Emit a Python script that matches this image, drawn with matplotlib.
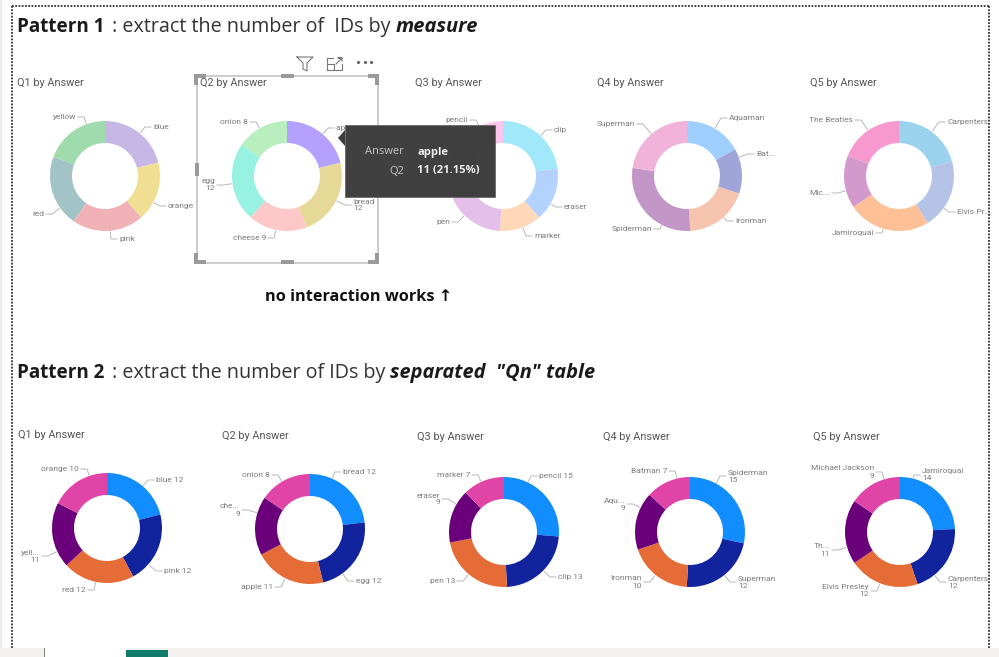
import math
import matplotlib
matplotlib.use("Agg")
import matplotlib.pyplot as plt
from matplotlib.patches import Rectangle, Polygon

plt.rcParams['font.family'] = ['Open Sans', 'DejaVu Sans']

W, H = 999, 657

# Pattern 1 data (alphabetical order, slices in pastel colours)
p1_q1_labels = ["blue", "orange", "pink", "red", "yellow"]
p1_q1_values = [12, 10, 12, 12, 11]
p1_q2_labels = ["apple 11", "bread\n12", "cheese 9", "egg\n12", "onion 8"]
p1_q2_values = [11, 12, 9, 12, 8]
p1_q3_labels = ["clip", "eraser", "marker", "pen", "pencil"]
p1_q3_values = [13, 9, 7, 13, 15]
p1_q4_labels = ["Aquaman", "Bat...", "Ironman", "Spiderman", "Superman"]
p1_q4_values = [9, 7, 10, 15, 12]
p1_q5_labels = ["Carpenters", "Elvis Pr...", "Jamiroquai", "Mic...", "The Beatles"]
p1_q5_values = [12, 12, 14, 9, 11]

# Pattern 2 data (sorted by count)
p2_q1_labels = ["blue 12", "pink 12", "red 12", "yell...\n11", "orange 10"]
p2_q1_values = [12, 12, 12, 11, 10]
p2_q2_labels = ["bread 12", "egg 12", "apple 11", "che...\n9", "onion 8"]
p2_q2_values = [12, 12, 11, 9, 8]
p2_q3_labels = ["pencil 15", "clip 13", "pen 13", "eraser\n9", "marker 7"]
p2_q3_values = [15, 13, 13, 9, 7]
p2_q4_labels = ["Spiderman\n15", "Superman\n12", "Ironman\n10", "Aqu...\n9", "Batman 7"]
p2_q4_values = [15, 12, 10, 9, 7]
p2_q5_labels = ["Jamiroquai\n14", "Carpenters\n12", "Elvis Presley\n12", "Th...\n11", "Michael Jackson\n9"]
p2_q5_values = [14, 12, 12, 11, 9]

titles = ["Q1 by Answer", "Q2 by Answer", "Q3 by Answer", "Q4 by Answer", "Q5 by Answer"]

p1_colors = [
    ["#C7B7E5", "#F0DF92", "#F0B2B7", "#A3C4C6", "#9FDBAC"],
    ["#B4A0FF", "#E6D998", "#FFC8C8", "#98F2E2", "#B9EEBF"],
    ["#A0E8FA", "#B4D2FF", "#FFD8B8", "#E3BFEA", "#FBC5EC"],
    ["#9FCFFF", "#9FA5D8", "#F5C3AE", "#C396C8", "#F2B3DB"],
    ["#9BD3EE", "#B5C3E6", "#FFC097", "#D398CC", "#F799CE"],
]
p2_colors = ["#118DFF", "#12239E", "#E66C37", "#6B007B", "#E044A7"]

# Where each label's inner edge sits in the picture (pixels), same order as the labels
p1_label_pos = [
    [(153, 127), (168, 206), (119, 239), (44, 214), (76, 117)],
    [(336, 128), (353, 205), (266, 238), (215, 185), (248, 122)],
    [(554, 130), (564, 207), (534, 236), (450, 222), (468, 120)],
    [(729, 118), (756, 154), (735, 221), (652, 229), (635, 124)],
    [(947, 122), (957, 212), (874, 233), (830, 193), (853, 120)],
]
p2_label_pos = [
    [(156, 480), (164, 571), (86, 590), (40, 556), (79, 469)],
    [(343, 472), (356, 581), (273, 587), (240, 510), (270, 475)],
    [(539, 476), (558, 577), (455, 581), (440, 499), (470, 475)],
    [(728, 476), (738, 582), (642, 582), (625, 504), (667, 471)],
    [(922, 475), (948, 582), (869, 591), (830, 550), (874, 472)],
]

fig = plt.figure(figsize=(W / 100, H / 100), dpi=100, facecolor="white")

# Overlay in pixel coordinates for text, frames and the tooltip
over = fig.add_axes([0, 0, 1, 1], zorder=5)
over.set_xlim(0, W)
over.set_ylim(H, 0)
over.axis("off")
over.patch.set_alpha(0)


# Helper function to draw one donut with its leader lines and labels
def donut(cx, cy, labels, values, colors, label_pos, r=55):
    ax = fig.add_axes([(cx - r) / W, 1 - (cy + r) / H, 2 * r / W, 2 * r / H], zorder=2)
    ax.pie(values, colors=colors, startangle=90, counterclock=False, radius=1,
           wedgeprops=dict(width=0.4, linewidth=0))
    ax.set_xlim(-1, 1)
    ax.set_ylim(-1, 1)
    for label, (tx, ty) in zip(labels, label_pos):
        side = 1 if tx >= cx else -1
        ex = tx - side * 8
        ey = ty
        dist = math.hypot(ex - cx, ey - cy)
        rx = cx + (r + 1) * (ex - cx) / dist
        ry = cy + (r + 1) * (ey - cy) / dist
        over.plot([rx, ex, tx - side * 2], [ry, ey, ey], color="#b8b8b8", lw=0.7, zorder=2)
        over.text(tx, ty, label, fontsize=6, color="#7c7c7c", va="center",
                  ha="left" if side > 0 else "right",
                  multialignment="left" if side > 0 else "right", linespacing=1.2, zorder=2,
                  family=['Roboto', 'DejaVu Sans'])


# Title rows
over.text(17, 27, "Pattern 1", fontsize=13.6, fontweight="bold", color="#1a1a1a", va="center")
over.text(112, 27, ": extract the number of  IDs by", fontsize=14.2, color="#333333", va="center")
over.text(396, 27, "measure", fontsize=14.5, fontweight="bold", style="italic", color="#1a1a1a", va="center")
over.text(17, 373, "Pattern 2", fontsize=13.6, fontweight="bold", color="#1a1a1a", va="center")
over.text(112, 373, ": extract the number of IDs by", fontsize=14.2, color="#333333", va="center")
over.text(390, 373, 'separated  "Qn" table', fontsize=14.4, fontweight="bold", style="italic", color="#1a1a1a", va="center")

over.text(265, 297, "no interaction works ↑", fontsize=11.7, fontweight="bold", color="#111111", va="center")

# Donuts, top row then bottom row
top_centers = [(105, 176), (287, 176), (503, 176), (687, 176), (899, 176)]
bottom_centers = [(107, 528), (310, 529), (504, 532), (690, 532), (900, 532)]
top_title_pos = [(17, 83), (200, 83), (415, 83), (597, 83), (810, 83)]
bottom_title_pos = [(18, 435), (222, 436), (417, 437), (603, 437), (813, 437)]

p1_labels = [p1_q1_labels, p1_q2_labels, p1_q3_labels, p1_q4_labels, p1_q5_labels]
p1_values = [p1_q1_values, p1_q2_values, p1_q3_values, p1_q4_values, p1_q5_values]
p2_labels = [p2_q1_labels, p2_q2_labels, p2_q3_labels, p2_q4_labels, p2_q5_labels]
p2_values = [p2_q1_values, p2_q2_values, p2_q3_values, p2_q4_values, p2_q5_values]

for i in range(5):
    donut(top_centers[i][0], top_centers[i][1], p1_labels[i], p1_values[i], p1_colors[i], p1_label_pos[i])
    donut(bottom_centers[i][0], bottom_centers[i][1], p2_labels[i], p2_values[i], p2_colors, p2_label_pos[i])
    over.text(top_title_pos[i][0], top_title_pos[i][1], titles[i], fontsize=7.8, color="#555555", va="center",
              family=['Roboto', 'DejaVu Sans'])
    over.text(bottom_title_pos[i][0], bottom_title_pos[i][1], titles[i], fontsize=7.8, color="#555555", va="center",
              family=['Roboto', 'DejaVu Sans'])

# Dotted report border
over.plot([12, 12], [6, 648], color="#333333", lw=1.3, ls=(0, (1, 0.8)))
over.plot([12, 989], [6, 6], color="#333333", lw=1.3, ls=(0, (1, 0.8)))
over.plot([989, 989], [6, 648], color="#333333", lw=1.3, ls=(0, (1, 0.8)))

# Selected visual frame with grips
over.add_patch(Rectangle((197, 76), 181, 187, fill=False, edgecolor="#c4c4c4", lw=1.2, zorder=3))
for x, y, w, h in [(194, 74, 12, 4), (194, 74, 4, 11), (368, 74, 11, 4), (375, 74, 4, 11),
                   (194, 260, 12, 4), (194, 253, 4, 11), (368, 260, 11, 4), (375, 253, 4, 11),
                   (281, 74, 13, 4), (281, 260, 13, 4), (195, 163, 4, 13)]:
    over.add_patch(Rectangle((x, y), w, h, color="#9a9a9a", lw=0, zorder=3))

# Header icons of the selected visual
over.plot([297, 313, 307, 307, 303, 303, 297], [57, 57, 63, 71, 69, 63, 57], color="#777777", lw=0.8, zorder=3)
over.plot([333, 327, 327, 342, 342], [58, 58, 70, 70, 64], color="#777777", lw=0.8, zorder=3)
over.plot([327, 334, 334], [64, 64, 70], color="#777777", lw=0.8, zorder=3)
over.plot([336, 342, 338, 342, 342], [64, 58, 58, 58, 61], color="#777777", lw=0.8, zorder=3)
over.plot([358, 365, 371], [62, 62, 62], ls="none", marker="o", ms=1.3, color="#666666", zorder=3)

# Tooltip over the donuts
over.add_patch(Polygon([(345, 130), (338, 138), (345, 146)], color="#3c3c3c", lw=0, zorder=6))
over.add_patch(Rectangle((345, 125), 150, 72, facecolor="#3c3c3c", edgecolor="#666666", lw=0.6, alpha=0.98, zorder=6))
over.text(404, 152, "Answer", fontsize=8, color="#c8c8c8", ha="right", va="center", zorder=7)
over.text(404, 171, "Q2", fontsize=8, color="#c8c8c8", ha="right", va="center", zorder=7)
over.text(417, 152, "apple", fontsize=8, fontweight="bold", color="#eeeeee", va="center", zorder=7)
over.text(417, 171, "11 (21.15%)", fontsize=8, fontweight="bold", color="#eeeeee", va="center", zorder=7)

# Bottom page tab bar
over.add_patch(Rectangle((0, 648), W, 9, color="#F3F2F1", lw=0, zorder=1))
over.add_patch(Rectangle((45, 648), 81, 9, color="white", lw=0, zorder=1))
over.plot([44, 44], [648, 657], color="#888888", lw=0.8, zorder=1)
over.add_patch(Rectangle((126, 650), 42, 7, color="#107C6B", lw=0, zorder=1))
over.add_patch(Rectangle((0, 0), 2, 648, color="#ececec", lw=0, zorder=1))

fig.savefig("out.png", dpi=100)
